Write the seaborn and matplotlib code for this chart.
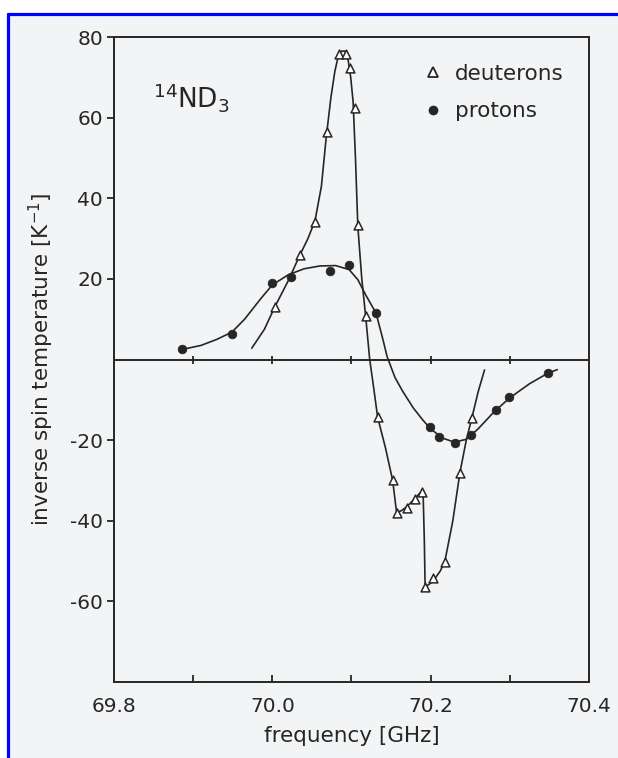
import matplotlib
matplotlib.use("Agg")
import matplotlib.pyplot as plt
import seaborn as sns
import pandas as pd
from matplotlib.lines import Line2D
from matplotlib.patches import Rectangle

# ---------------- data ----------------
deut_freq = [70.003, 70.035, 70.054, 70.0685, 70.0845, 70.093, 70.098, 70.104,
             70.108, 70.118, 70.133, 70.152, 70.157, 70.170, 70.180, 70.189,
             70.193, 70.203, 70.218, 70.237, 70.252]
deut_val = [13.1, 25.9, 34.2, 56.5, 75.8, 75.8, 72.3, 62.3,
            33.4, 10.8, -14.3, -29.9, -38.1, -36.8, -34.5, -32.9,
            -56.4, -54.3, -50.2, -28.2, -14.5]

prot_freq = [69.886, 69.949, 69.999, 70.024, 70.073, 70.097, 70.131,
             70.199, 70.210, 70.2305, 70.2515, 70.282, 70.299, 70.348]
prot_val = [2.5, 6.3, 18.9, 20.4, 22.0, 23.4, 11.6,
            -16.7, -19.2, -20.8, -18.7, -12.5, -9.2, -3.4]

# hand-drawn guide curves
deut_curve_freq = [69.974, 69.99, 70.003, 70.02, 70.035, 70.045, 70.054, 70.062,
                   70.068, 70.074, 70.079, 70.083, 70.087, 70.092, 70.096, 70.099,
                   70.102, 70.105, 70.108, 70.113, 70.118, 70.123, 70.128, 70.133,
                   70.143, 70.152, 70.157, 70.163, 70.170, 70.180, 70.187, 70.1905,
                   70.192, 70.193, 70.203, 70.212, 70.218, 70.228, 70.237, 70.245,
                   70.252, 70.260, 70.268]
deut_curve_val = [2.8, 7.5, 13.0, 19.5, 26.0, 30.0, 34.5, 43.0,
                  55.0, 65.0, 71.5, 75.0, 76.5, 76.5, 74.0, 70.0,
                  64.0, 50.0, 33.0, 20.0, 10.5, 0.0, -7.0, -14.3,
                  -22.0, -30.0, -38.0, -37.5, -36.5, -34.5, -33.0, -33.5,
                  -45.0, -56.5, -55.0, -52.5, -50.0, -40.0, -28.0, -20.0,
                  -14.5, -8.0, -2.6]

prot_curve_freq = [69.886, 69.91, 69.93, 69.949, 69.965, 69.985, 70.0, 70.02,
                   70.04, 70.06, 70.08, 70.097, 70.108, 70.118, 70.131, 70.139,
                   70.145, 70.155, 70.165, 70.178, 70.19, 70.2, 70.215, 70.23,
                   70.245, 70.26, 70.28, 70.30, 70.325, 70.348, 70.36]
prot_curve_val = [2.5, 3.5, 5.0, 6.8, 10.0, 15.0, 18.5, 21.0,
                  22.5, 23.2, 23.3, 22.3, 19.8, 16.0, 11.5, 5.5,
                  0.7, -4.5, -8.0, -12.0, -15.0, -17.2, -19.5, -20.5,
                  -19.8, -17.2, -13.0, -9.5, -6.0, -3.4, -2.5]

x_ticks = [69.8, 69.9, 70.0, 70.1, 70.2, 70.3, 70.4]
x_tick_labels = ["69.8", "", "70.0", "", "70.2", "", "70.4"]
zero_line_ticks = [69.9, 70.0, 70.1, 70.2, 70.3]
y_ticks = [-60, -40, -20, 20, 40, 60, 80]
y_tick_labels = ["-60", "-40", "-20", "20", "40", "60", "80"]

# ---------------- figure ----------------
sns.set_theme(style="ticks")
plt.rcParams["font.family"] = ["DejaVu Sans"]
ink = "#262626"

W, H = 618, 758
fig = plt.figure(figsize=(W / 100, H / 100), dpi=100)
fig.patch.set_facecolor("white")
# scanned paper background
fig.add_artist(Rectangle((8 / W, 0), 1, 1 - 15 / H, transform=fig.transFigure,
                         facecolor="#f3f4f6", edgecolor="none", zorder=-10))
# blue frame (left and top)
fig.add_artist(Line2D([7.5 / W, 7.5 / W], [0, 1 - 13.5 / H], color="#0000ff",
                      lw=2.3, transform=fig.transFigure))
fig.add_artist(Line2D([7.5 / W, 1], [1 - 13.5 / H, 1 - 13.5 / H], color="#0000ff",
                      lw=2.3, transform=fig.transFigure))

ax = fig.add_axes([114 / W, 1 - 682 / H, 475 / W, 645 / H])
ax.set_facecolor("none")

deut_curve = pd.DataFrame({"f": deut_curve_freq, "v": deut_curve_val})
prot_curve = pd.DataFrame({"f": prot_curve_freq, "v": prot_curve_val})
deut = pd.DataFrame({"f": deut_freq, "v": deut_val})
prot = pd.DataFrame({"f": prot_freq, "v": prot_val})

sns.lineplot(data=deut_curve, x="f", y="v", sort=False, estimator=None,
             color=ink, lw=1.2, ax=ax, zorder=2)
sns.lineplot(data=prot_curve, x="f", y="v", sort=False, estimator=None,
             color=ink, lw=1.2, ax=ax, zorder=2)
sns.scatterplot(data=prot, x="f", y="v", marker="o", s=38, color=ink,
                edgecolor=ink, linewidth=0.6, ax=ax, zorder=3)
sns.scatterplot(data=deut, x="f", y="v", marker="^", s=40, color="white",
                edgecolor=ink, linewidth=1.1, ax=ax, zorder=4)

# zero line with its small tick marks
ax.axhline(0, color=ink, lw=1.4, zorder=1)
ax.scatter(zero_line_ticks, [0] * len(zero_line_ticks), marker="|", s=40,
           color=ink, linewidths=1.3, zorder=1)

ax.set_xlim(69.8, 70.4)
ax.set_ylim(-80, 80)
ax.set_xticks(x_ticks)
ax.set_xticklabels(x_tick_labels)
ax.set_yticks(y_ticks)
ax.set_yticklabels(y_tick_labels)
ax.tick_params(axis="x", direction="in", length=5, width=1.3, pad=11,
               labelsize=14.5, colors=ink)
ax.tick_params(axis="y", direction="out", length=5, width=1.3, pad=3,
               labelsize=14.5, colors=ink)
for sp in ax.spines.values():
    sp.set_visible(True)
    sp.set_color(ink)
    sp.set_linewidth(1.4)

ax.set_xlabel("frequency [GHz]", fontsize=15.5, color=ink, labelpad=7)
ax.set_ylabel("inverse spin temperature [K$^{-1}$]", fontsize=15.5, color=ink,
              labelpad=10)

fig.text(153 / W, 1 - 108 / H, r"$^{14}$ND$_3$", fontsize=19, color=ink,
         va="baseline", ha="left")

handles = [Line2D([], [], ls="none", marker="^", markersize=6.5,
                  markerfacecolor="white", markeredgecolor=ink, markeredgewidth=1.3),
           Line2D([], [], ls="none", marker="o", markersize=6,
                  markerfacecolor=ink, markeredgecolor=ink)]
ax.legend(handles, ["deuterons", "protons"], loc="upper left",
          bbox_to_anchor=(424 / W, 1 - 64 / H), bbox_transform=fig.transFigure,
          frameon=False, fontsize=15.5, handlelength=0.8, handletextpad=0.65,
          labelspacing=0.8, borderpad=0, borderaxespad=0, labelcolor=ink)

fig.savefig("out.png", dpi=100, facecolor=fig.get_facecolor())
